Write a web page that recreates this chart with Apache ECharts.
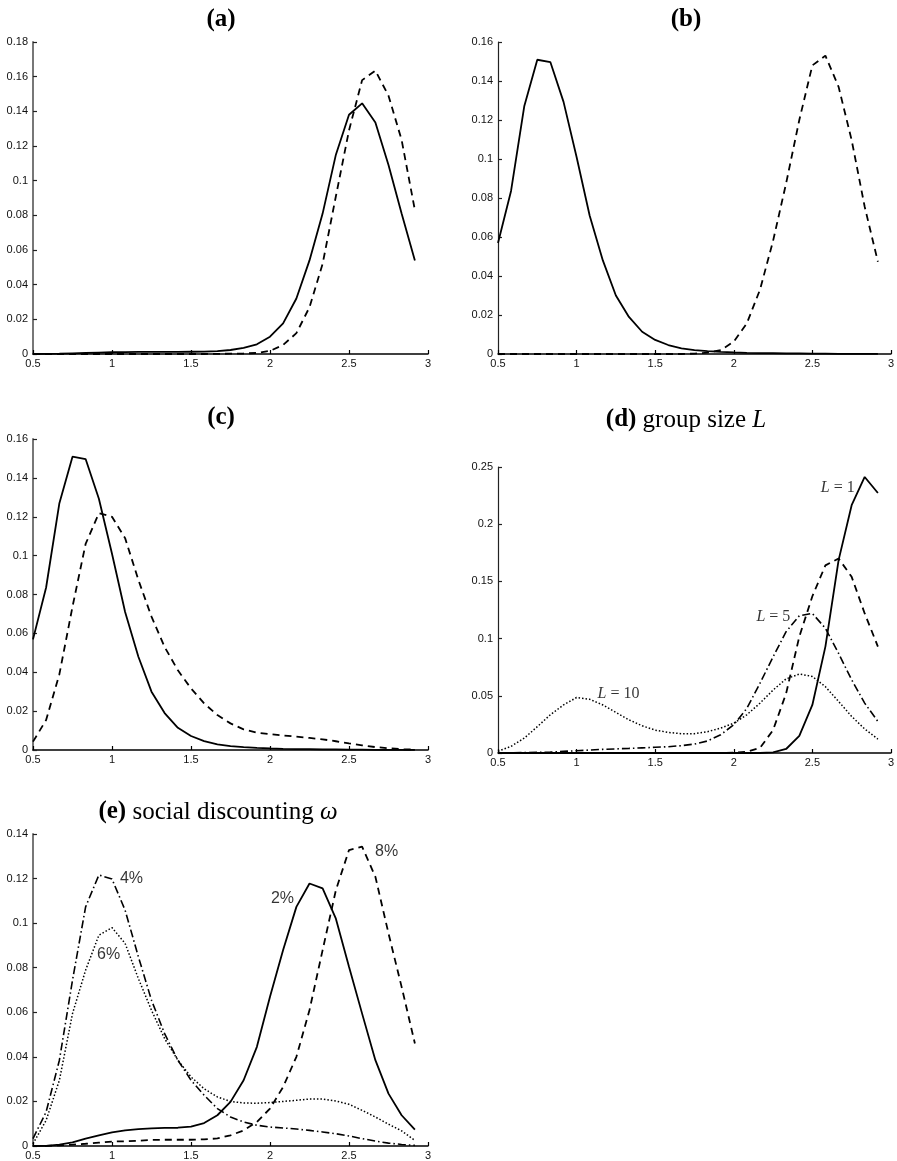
<!DOCTYPE html>
<html>
<head>
<meta charset="utf-8">
<script src="https://cdn.jsdelivr.net/npm/echarts@6/dist/echarts.min.js"></script>
<style>
html,body{margin:0;padding:0;background:#fff;}
#c{width:897px;height:1161px;}
</style>
</head>
<body>
<div id="c"></div>
<script>
// x sample points shared by all panels
const xs = [0.5,0.583,0.667,0.75,0.833,0.917,1,1.083,1.167,1.25,1.333,1.417,1.5,1.583,1.667,1.75,1.833,1.917,2,2.083,2.167,2.25,2.333,2.417,2.5,2.583,2.667,2.75,2.833,2.917];
const xTicks = [0.5, 1, 1.5, 2, 2.5, 3];

// (a)
const aSolid  = [0,0.0001,0.0002,0.0004,0.0006,0.0008,0.001,0.0011,0.0012,0.0012,0.0012,0.0012,0.0013,0.0014,0.0017,0.0023,0.0035,0.0056,0.010,0.0177,0.032,0.054,0.081,0.115,0.138,0.1446,0.1335,0.109,0.081,0.054];
const aDashed = [0,0,0,0,0,0,0,0,0,0,0,0,0,0,0.0001,0.0002,0.0003,0.0006,0.0018,0.0052,0.012,0.027,0.052,0.091,0.129,0.158,0.1635,0.149,0.1235,0.083];
// (b)
const bSolid  = [0.0569,0.0836,0.127,0.1509,0.1497,0.1293,0.101,0.071,0.048,0.030,0.019,0.0114,0.0072,0.0046,0.0029,0.002,0.0015,0.0011,0.0008,0.0006,0.0005,0.0004,0.0003,0.0003,0.0002,0.0002,0.0001,0.0001,0.0001,0.0001];
const bDashed = [0,0,0,0,0,0,0,0,0,0,0,0,0,0,0,0.0002,0.0007,0.002,0.0063,0.0157,0.033,0.058,0.0875,0.12,0.148,0.153,0.137,0.1097,0.0755,0.0473];
// (c)
const cSolid  = [0.0569,0.0836,0.127,0.1509,0.1497,0.1293,0.101,0.071,0.048,0.030,0.019,0.0114,0.0072,0.0046,0.0029,0.002,0.0015,0.0011,0.0008,0.0006,0.0005,0.0004,0.0003,0.0003,0.0002,0.0002,0.0001,0.0001,0.0001,0.0001];
const cDashed = [0.0043,0.0154,0.039,0.0737,0.106,0.1218,0.120,0.109,0.0875,0.0686,0.053,0.041,0.0317,0.024,0.018,0.0137,0.0106,0.0089,0.0082,0.0075,0.0069,0.0062,0.0055,0.0045,0.0034,0.0024,0.0015,0.0009,0.0004,0.0002];
// (d) group size L
const dL1     = [0,0,0,0,0,0,0,0,0,0,0,0,0,0,0,0,0,0,0,0,0,0.0006,0.0035,0.015,0.042,0.093,0.1686,0.2166,0.2413,0.2273];
const dDashed = [0,0,0,0,0,0,0,0,0,0,0,0,0,0,0,0,0,0,0.0003,0.001,0.0044,0.020,0.052,0.1017,0.137,0.164,0.170,0.154,0.122,0.093];
const dL5     = [0,0.0002,0.0004,0.0006,0.0008,0.0014,0.002,0.0026,0.0032,0.0036,0.004,0.0045,0.005,0.0055,0.0064,0.0078,0.0105,0.016,0.0247,0.039,0.061,0.084,0.106,0.120,0.122,0.109,0.087,0.064,0.0436,0.0276];
const dL10    = [0.0015,0.0058,0.013,0.023,0.0334,0.042,0.0485,0.047,0.042,0.0355,0.029,0.0238,0.020,0.018,0.0169,0.0169,0.0186,0.0218,0.026,0.0334,0.0436,0.055,0.0648,0.069,0.0669,0.058,0.045,0.032,0.021,0.0122];
const dLabels = [
  {text: '{i|L} = 1',  x: 2.77,  y: 0.232,  align: 'right'},
  {text: '{i|L} = 5',  x: 2.36,  y: 0.119,  align: 'right'},
  {text: '{i|L} = 10', x: 1.133, y: 0.0517, align: 'left'}
];
// (e) social discounting
const e2 = [0,0.0001,0.0006,0.0016,0.0033,0.0048,0.0061,0.007,0.0076,0.0079,0.0081,0.0082,0.0087,0.0103,0.0138,0.0198,0.0295,0.0445,0.067,0.0879,0.1073,0.1178,0.1156,0.102,0.0804,0.0594,0.0385,0.0235,0.0138,0.0073];
const e8 = [0,0.0001,0.0003,0.0006,0.001,0.0015,0.002,0.0021,0.0024,0.0027,0.0028,0.0028,0.0028,0.003,0.0034,0.0048,0.007,0.0108,0.0168,0.0265,0.040,0.061,0.0879,0.1148,0.1328,0.1343,0.1208,0.0954,0.0714,0.046];
const e4 = [0.0033,0.0153,0.0385,0.0744,0.1073,0.1216,0.1198,0.1058,0.0849,0.0654,0.0504,0.0385,0.0295,0.0228,0.0168,0.013,0.0108,0.0093,0.0085,0.0081,0.0076,0.007,0.0063,0.0055,0.0045,0.0033,0.0022,0.0013,0.0007,0.0003];
const e6 = [0.001,0.0115,0.0295,0.0594,0.0789,0.0946,0.098,0.0909,0.0751,0.0609,0.0482,0.0385,0.031,0.0257,0.022,0.020,0.0193,0.0192,0.0195,0.020,0.0205,0.0211,0.0211,0.0202,0.0187,0.016,0.013,0.0098,0.0068,0.0025];
const eLabels = [
  {text: '4%', x: 1.05,  y: 0.12,   align: 'left'},
  {text: '6%', x: 0.905, y: 0.086,  align: 'left'},
  {text: '2%', x: 2.006, y: 0.1108, align: 'left'},
  {text: '8%', x: 2.665, y: 0.132,  align: 'left'}
];
const yMax = [0.18, 0.16, 0.16, 0.25, 0.14];
const yStep = [0.02, 0.02, 0.02, 0.05, 0.02];

const SANS = '"Liberation Sans", Arial, sans-serif';
const SERIF = '"Liberation Serif", "Times New Roman", serif';

const grids = [
  {left: 33,  top: 42,  width: 395, height: 312},
  {left: 498, top: 42,  width: 395, height: 312},
  {left: 33,  top: 439, width: 395, height: 311},
  {left: 498, top: 467, width: 395, height: 286},
  {left: 33,  top: 834, width: 395, height: 312}
];
const leftPanel = [true, false, true, false, true];

const xAxes = grids.map((g, i) => ({
  type: 'value', gridIndex: i, min: xTicks[0], max: xTicks[xTicks.length-1], interval: 0.5,
  axisLine: {show: true, onZero: false, lineStyle: {color: '#000', width: 1.5}},
  axisTick: {show: true, inside: true, length: 4, lineStyle: {color: '#000', width: 1.2}},
  axisLabel: {show: true, margin: 4, fontFamily: SANS, fontSize: 11, color: '#111', showMaxLabel: true, showMinLabel: true},
  splitLine: {show: false}
}));
const yAxes = grids.map((g, i) => ({
  type: 'value', gridIndex: i, min: 0, max: yMax[i], interval: yStep[i],
  axisLine: {show: true, onZero: false, lineStyle: {color: leftPanel[i] ? '#777' : '#222', width: leftPanel[i] ? 2 : 1.2}},
  axisTick: {show: true, inside: true, length: 4, lineStyle: {color: '#222', width: 1.2}},
  axisLabel: {show: true, margin: 5, fontFamily: SANS, fontSize: 11, color: '#111'},
  splitLine: {show: false}
}));

const SOLID = 'solid';
const DASH = [7, 5];
const DASHDOT = [8, 3, 1.5, 3];
const DOT = [1.5, 2];

function line(idx, arr, type, width) {
  return {
    type: 'line', xAxisIndex: idx, yAxisIndex: idx,
    data: xs.map((x, k) => [x, arr[k]]),
    showSymbol: false, symbol: 'none', silent: true, animation: false,
    lineStyle: {color: '#000', width: width || 1.8, type: type}
  };
}
function labels(idx, list, font, size) {
  return {
    type: 'scatter', xAxisIndex: idx, yAxisIndex: idx, symbolSize: 1, silent: true, animation: false,
    itemStyle: {color: 'rgba(0,0,0,0)'}, z: 10,
    data: list.map(l => ({
      value: [l.x, l.y],
      label: {show: true, position: 'inside', align: l.align, verticalAlign: 'middle',
        formatter: l.text, fontFamily: font, fontSize: size, color: '#000',
        rich: {i: {fontStyle: 'italic', fontFamily: font, fontSize: size, color: '#000'}}}
    }))
  };
}

const series = [
  line(0, aSolid, SOLID), line(0, aDashed, DASH),
  line(1, bSolid, SOLID), line(1, bDashed, DASH),
  line(2, cSolid, SOLID), line(2, cDashed, DASH),
  line(3, dL1, SOLID), line(3, dDashed, DASH), line(3, dL5, DASHDOT, 1.6), line(3, dL10, DOT, 1.5),
  line(4, e2, SOLID), line(4, e8, DASH), line(4, e4, DASHDOT, 1.6), line(4, e6, DOT, 1.5),
  labels(3, dLabels, SERIF, 16),
  labels(4, eLabels, SANS, 16)
];

function title(x, y, text) {
  return {
    type: 'text', x: x, y: y, silent: true,
    style: {
      text: text, align: 'center', verticalAlign: 'middle',
      fontFamily: SERIF, fontSize: 25, fill: '#000',
      rich: {
        b: {fontWeight: 'bold', fontFamily: SERIF, fontSize: 25},
        r: {fontFamily: SERIF, fontSize: 25},
        i: {fontStyle: 'italic', fontFamily: SERIF, fontSize: 25}
      }
    }
  };
}

const chart = echarts.init(document.getElementById('c'), null, {renderer: 'canvas'});
chart.setOption({
  backgroundColor: '#fff',
  animation: false,
  grid: grids,
  xAxis: xAxes,
  yAxis: yAxes,
  series: series,
  graphic: [
    title(221, 20, '{b|(a)}'),
    title(686, 20, '{b|(b)}'),
    title(221, 418, '{b|(c)}'),
    title(686, 420, '{b|(d)}{r| group size }{i|L}'),
    title(218, 812, '{b|(e)}{r| social discounting }{i|ω}')
  ]
});
</script>
</body>
</html>
